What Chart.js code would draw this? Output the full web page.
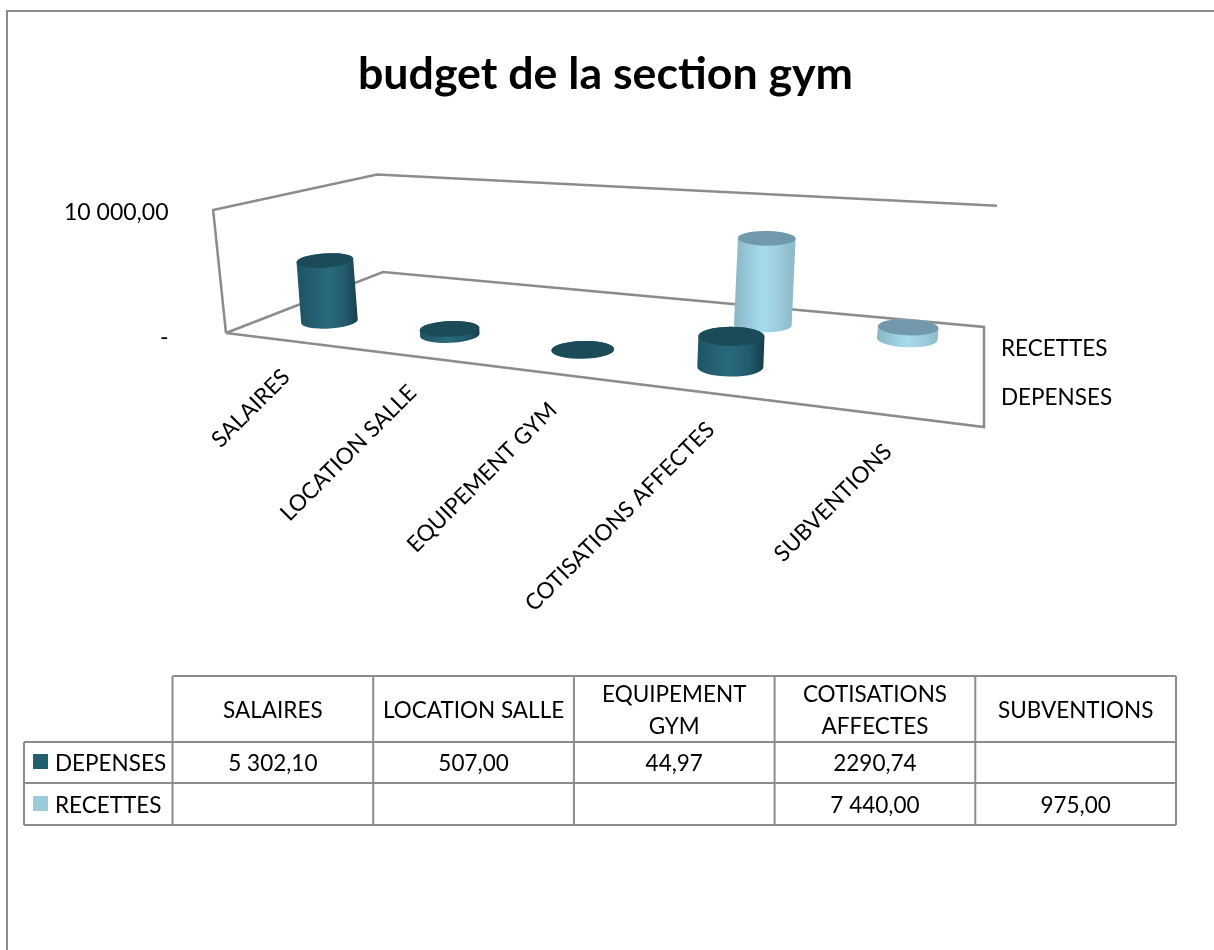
<!DOCTYPE html>
<html>
<head>
<meta charset="utf-8">
<title>budget de la section gym</title>
<script src="https://cdn.jsdelivr.net/npm/chart.js@4/dist/chart.umd.min.js"></script>
<style>
  html, body { margin: 0; padding: 0; background: #fff; }
  canvas { display: block; }
</style>
</head>
<body>
<canvas id="budgetChart" width="1214" height="950"></canvas>
<script>
// --- 1. DATA ---
const titleText = 'budget de la section gym';
const categories = ['SALAIRES', 'LOCATION SALLE', 'EQUIPEMENT GYM', 'COTISATIONS AFFECTES', 'SUBVENTIONS'];
const headerLines = [['SALAIRES'], ['LOCATION SALLE'], ['EQUIPEMENT', 'GYM'], ['COTISATIONS', 'AFFECTES'], ['SUBVENTIONS']];
const depenses = [5302.10, 507.00, 44.97, 2290.74, null];
const recettes = [null, null, null, 7440.00, 975.00];
const depensesLabels = ['5 302,10', '507,00', '44,97', '2290,74', ''];
const recettesLabels = ['', '', '', '7 440,00', '975,00'];
const yTickLabels = ['-', '10 000,00'];

// --- 2. STYLE ---
const LINE = '#8c8c8c';
const FONT = '22.5px Lato';
const dark = { key: '#22606f', top: '#1c4b58', stops: ['#1f5566', '#2a6a7e', '#22586a', '#163f4c'] };
const light = { key: '#9bcbdb', top: '#7199ab', stops: ['#89b7c6', '#a6dbee', '#9acbdc', '#8fbbca'] };

// --- 3. FLOOR PERSPECTIVE (unit square -> picture) ---
const FL = { x: 226, y: 333 }, FR = { x: 984, y: 427 }, BR = { x: 984, y: 327 }, BL = { x: 383, y: 272 };
const WALL_HEIGHT = 123;

const den = (FR.x - BR.x) * (BL.y - BR.y) - (BL.x - BR.x) * (FR.y - BR.y);
const sx = FL.x - FR.x + BR.x - BL.x;
const sy = FL.y - FR.y + BR.y - BL.y;
const g = (sx * (BL.y - BR.y) - (BL.x - BR.x) * sy) / den;
const h = ((FR.x - BR.x) * sy - sx * (FR.y - BR.y)) / den;

function project(u, v) {
    const w = g * u + h * v + 1;
    return {
        x: ((FR.x - FL.x + g * FR.x) * u + (BL.x - FL.x + h * BL.x) * v + FL.x) / w,
        y: ((FR.y - FL.y + g * FR.y) * u + (BL.y - FL.y + h * BL.y) * v + FL.y) / w,
        w: w
    };
}

// raise a floor point, verticals lean a little away from the middle
function lift(p, height) {
    return { x: p.x + height * (p.x - 600) * 0.00028, y: p.y - height };
}

// --- 4. CYLINDERS AND WALLS ---
function drawCylinder(ctx, chart, bar, u, v, look) {
    const yScale = chart.scales.y;
    const p = project(u, v);
    p.x += 1;
    const height = (bar.base - bar.y) / (yScale.bottom - yScale.top) * WALL_HEIGHT * 0.97 / p.w;
    const top = lift(p, height);
    const rx = 29.5 / p.w;
    const ry = (project(u, v - 0.1).y - project(u, v + 0.1).y) / 2;
    const tilt = (p.x - 700) * 0.00018;

    const grad = ctx.createLinearGradient(p.x - rx, 0, p.x + rx, 0);
    grad.addColorStop(0, look.stops[0]);
    grad.addColorStop(0.5, look.stops[1]);
    grad.addColorStop(0.8, look.stops[2]);
    grad.addColorStop(1, look.stops[3]);

    ctx.beginPath();
    ctx.ellipse(p.x, p.y, rx, ry, tilt, 0, Math.PI);
    ctx.ellipse(top.x, top.y, rx, ry, tilt, Math.PI, 2 * Math.PI);
    ctx.closePath();
    ctx.fillStyle = grad;
    ctx.fill();

    ctx.beginPath();
    ctx.ellipse(top.x, top.y, rx, ry, tilt, 0, 2 * Math.PI);
    ctx.fillStyle = look.top;
    ctx.fill();
}

function polyline(ctx, points) {
    ctx.beginPath();
    points.forEach((p, i) => i ? ctx.lineTo(p.x, p.y) : ctx.moveTo(p.x, p.y));
    ctx.stroke();
}

function drawWalls(ctx) {
    ctx.strokeStyle = LINE;
    ctx.lineWidth = 2.5;
    const topAt = (u, v) => lift(project(u, v), WALL_HEIGHT / project(u, v).w);
    polyline(ctx, [FL, topAt(0, 0), topAt(0, 1), topAt(1, 1)]);
    polyline(ctx, [FL, BL, BR, FR, FL]);
}

// --- 5. DATA TABLE ---
function drawTable(ctx, chart) {
    const x = chart.scales.x;
    const band = (x.right - x.left) / categories.length;
    const rows = [676, 742, 783, 825];
    const keyLeft = 24;

    ctx.strokeStyle = LINE;
    ctx.lineWidth = 2;
    polyline(ctx, [{ x: x.left, y: rows[0] }, { x: x.right, y: rows[0] }]);
    [1, 2, 3].forEach(r => polyline(ctx, [{ x: keyLeft, y: rows[r] }, { x: x.right, y: rows[r] }]));
    polyline(ctx, [{ x: keyLeft, y: rows[1] }, { x: keyLeft, y: rows[3] }]);
    for (let i = 0; i <= categories.length; i++) {
        const cx = x.left + band * i;
        polyline(ctx, [{ x: cx, y: rows[0] }, { x: cx, y: rows[3] }]);
    }

    ctx.font = FONT;
    ctx.fillStyle = '#000';
    ctx.textBaseline = 'middle';
    ctx.textAlign = 'center';
    headerLines.forEach((lines, i) => {
        const cx = x.getPixelForValue(i);
        lines.forEach((line, l) => {
            ctx.fillText(line, cx, 710.5 + (l - (lines.length - 1) / 2) * 32);
        });
    });
    chart.data.datasets.forEach((ds, r) => {
        const labels = r === 0 ? depensesLabels : recettesLabels;
        const cy = r === 0 ? 763 : 805;
        labels.forEach((text, i) => {
            if (text) ctx.fillText(text, x.getPixelForValue(i), cy + 1);
        });
        ctx.textAlign = 'left';
        ctx.fillText(ds.label, 55, cy + 1);
        ctx.textAlign = 'center';
        ctx.fillStyle = r === 0 ? dark.key : light.key;
        ctx.fillRect(33, cy - 9, 15, 15);
        ctx.fillStyle = '#000';
    });
}

// --- 6. PLUGIN ---
const cylinderPlugin = {
    id: 'cylinders',
    afterDatasetsDraw(chart) {
        const ctx = chart.ctx;
        const x = chart.scales.x;
        ctx.save();

        // frame of the chart object
        ctx.strokeStyle = LINE;
        ctx.lineWidth = 2;
        polyline(ctx, [{ x: 7, y: 950 }, { x: 7, y: 11 }, { x: 1214, y: 11 }]);

        drawWalls(ctx);

        // back row first
        const looks = [dark, light];
        for (let d = chart.data.datasets.length - 1; d >= 0; d--) {
            const v = (d + 0.5) / chart.data.datasets.length;
            chart.getDatasetMeta(d).data.forEach((bar, i) => {
                if (chart.data.datasets[d].data[i] === null) return;
                drawCylinder(ctx, chart, bar, (bar.x - x.left) / (x.right - x.left), v, looks[d]);
            });
        }

        // category labels follow the front edge of the floor
        ctx.font = FONT;
        ctx.fillStyle = '#000';
        ctx.textBaseline = 'middle';
        ctx.textAlign = 'right';
        categories.forEach((name, i) => {
            const p = project((x.getPixelForValue(i) - x.left) / (x.right - x.left), 0);
            ctx.save();
            ctx.translate(p.x + 1.5, p.y + 33);
            ctx.rotate(-Math.PI / 4);
            ctx.fillText(name, 0, 0);
            ctx.restore();
        });

        // series names on the depth axis
        ctx.textAlign = 'left';
        ctx.fillText(chart.data.datasets[1].label, 1001, 349);
        ctx.fillText(chart.data.datasets[0].label, 1001, 398);

        drawTable(ctx, chart);
        ctx.restore();
    }
};

// --- 7. CHART ---
new Chart(document.getElementById('budgetChart'), {
    type: 'bar',
    data: {
        labels: categories,
        datasets: [
            { label: 'DEPENSES', data: depenses, backgroundColor: 'transparent', grouped: false },
            { label: 'RECETTES', data: recettes, backgroundColor: 'transparent', grouped: false }
        ]
    },
    options: {
        responsive: false,
        animation: false,
        layout: { padding: { left: 35, right: 38, top: 0, bottom: 612 } },
        plugins: {
            legend: { display: false },
            tooltip: { enabled: false },
            title: {
                display: true,
                text: titleText,
                color: '#000',
                font: { family: 'Lato', size: 44.7, weight: 'bold', lineHeight: 1.2 },
                padding: { top: 47.8, bottom: 111.56 }
            }
        },
        scales: {
            x: { display: false },
            y: {
                min: 0,
                max: 10000,
                afterFit(scale) { scale.width = 137.5; },
                grid: { display: false, drawTicks: false },
                border: { display: false },
                ticks: {
                    stepSize: 10000,
                    padding: 4,
                    color: '#000',
                    font: { family: 'Lato', size: 23 },
                    callback: (value, index) => yTickLabels[index]
                }
            }
        }
    },
    plugins: [cylinderPlugin]
});
</script>
</body>
</html>
